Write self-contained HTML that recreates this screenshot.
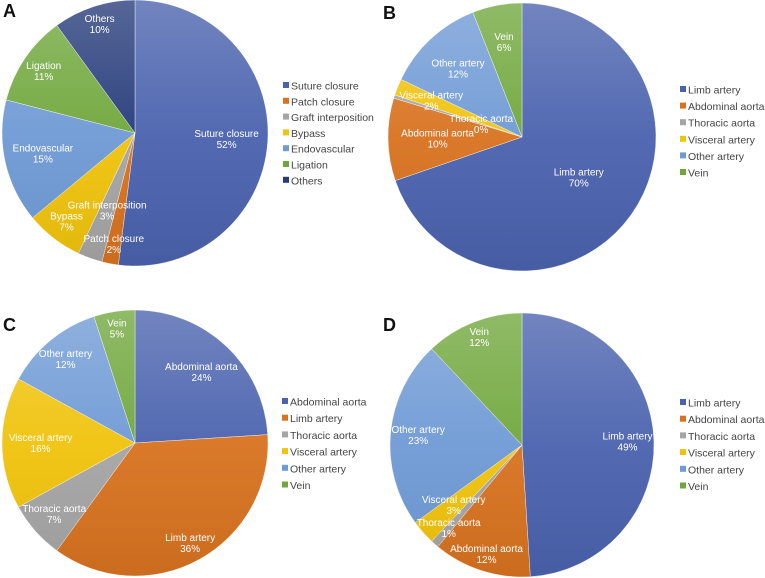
<!DOCTYPE html>
<html><head><meta charset="utf-8"><style>
body{margin:0;background:#fff;}
svg{display:block;font-family:"Liberation Sans",sans-serif;}
</style></head><body>
<svg id="fig" width="765" height="578" viewBox="0 0 765 578">
<defs>
<linearGradient id="shade" x1="0" y1="0" x2="0" y2="1">
<stop offset="0" stop-color="#fff" stop-opacity="0.22"/>
<stop offset="0.5" stop-color="#fff" stop-opacity="0.05"/>
<stop offset="1" stop-color="#000" stop-opacity="0.06"/>
</linearGradient>
</defs>
<text x="3" y="17" font-size="18" font-weight="bold" fill="#111">A</text>
<text x="383" y="19" font-size="18" font-weight="bold" fill="#111">B</text>
<text x="3" y="331" font-size="18" font-weight="bold" fill="#111">C</text>
<text x="383" y="331" font-size="18" font-weight="bold" fill="#111">D</text>
</svg>
<script>
const catsA = ["Suture closure","Patch closure","Graft interposition","Bypass","Endovascular","Ligation","Others"];
const valsA = [52,2,3,7,15,11,10];
const labelsA = ["52%","2%","3%","7%","15%","11%","10%"];
const catsB = ["Limb artery","Abdominal aorta","Thoracic aorta","Visceral artery","Other artery","Vein"];
const valsB = [70,10,0.4,2,12,6];
const labelsB = ["70%","10%","0%","2%","12%","6%"];
const catsC = ["Abdominal aorta","Limb artery","Thoracic aorta","Visceral artery","Other artery","Vein"];
const valsC = [24,36,7,16,12,5];
const labelsC = ["24%","36%","7%","16%","12%","5%"];
const catsD = ["Limb artery","Abdominal aorta","Thoracic aorta","Visceral artery","Other artery","Vein"];
const valsD = [49,12,1,3,23,12];
const labelsD = ["49%","12%","1%","3%","23%","12%"];

const colors = ["#4a62ae","#d8721f","#a5a5a5","#f0c30c","#6f9ad5","#70a73c","#263b7a"];
const svg = document.getElementById('fig');
const NS = "http://www.w3.org/2000/svg";

function drawPie(id, cats, vals, labels, cx, cy, r, lblFactor, legX, legY, legStep){
  const g = document.createElementNS(NS,'g');
  
  
  svg.appendChild(g);
  const total = vals.reduce((a,b)=>a+b,0);
  let acc = 0;
  const mids = [];
  vals.forEach((v,i)=>{
    const a0 = acc/total*2*Math.PI, a1 = (acc+v)/total*2*Math.PI;
    acc += v;
    mids.push((a0+a1)/2);
    const x0 = cx + r*Math.sin(a0), y0 = cy - r*Math.cos(a0);
    const x1 = cx + r*Math.sin(a1), y1 = cy - r*Math.cos(a1);
    const large = (a1-a0) > Math.PI ? 1 : 0;
    const p = document.createElementNS(NS,'path');
    p.setAttribute('d', `M${cx},${cy} L${x0},${y0} A${r},${r} 0 ${large} 1 ${x1},${y1} Z`);
    p.setAttribute('fill', colors[i]);
    p.setAttribute('stroke', '#fff');
    p.setAttribute('stroke-width', '0.4');
    
    
    g.appendChild(p);
  });
  const c = document.createElementNS(NS,'circle');
  c.setAttribute('cx', cx); c.setAttribute('cy', cy); c.setAttribute('r', r);
  c.setAttribute('fill', 'url(#shade)');
  c.setAttribute('pointer-events', 'none');
  
  
  g.appendChild(c);
  vals.forEach((v,i)=>{
    const d = r*lblFactor[i];
    const lx = cx + d*Math.sin(mids[i]), ly = cy - d*Math.cos(mids[i]);
    const t = document.createElementNS(NS,'text');
    t.setAttribute('x', lx); t.setAttribute('y', ly-2);
    t.setAttribute('text-anchor','middle');
    t.setAttribute('font-size','10');
    t.setAttribute('fill','#fff');
    
    
    const s1 = document.createElementNS(NS,'tspan');
    s1.setAttribute('x', lx); s1.textContent = cats[i];
    const s2 = document.createElementNS(NS,'tspan');
    s2.setAttribute('x', lx); s2.setAttribute('dy','11'); s2.textContent = labels[i];
    t.appendChild(s1); t.appendChild(s2);
    g.appendChild(t);
  });
  const lg = document.createElementNS(NS,'g');
  
  
  svg.appendChild(lg);
  cats.forEach((cat,i)=>{
    const y = legY + i*legStep;
    const e = document.createElementNS(NS,'g');
    
    
    const sq = document.createElementNS(NS,'rect');
    sq.setAttribute('x', legX); sq.setAttribute('y', y-4);
    sq.setAttribute('width', 6); sq.setAttribute('height', 6);
    sq.setAttribute('fill', colors[i]);
    const t = document.createElementNS(NS,'text');
    t.setAttribute('x', legX+8); t.setAttribute('y', y+3.5);
    t.setAttribute('font-size','10.5'); t.setAttribute('fill','#444');
    t.textContent = cat;
    e.appendChild(sq); e.appendChild(t);
    lg.appendChild(e);
  });
}
drawPie('a', catsA, valsA, labelsA, 135, 133, 133, [0.69,0.85,0.62,0.84,0.71,0.83,0.86], 283, 86, 15.8);
drawPie('b', catsB, valsB, labelsB, 522, 137, 134, [0.52,0.63,0.32,0.73,0.7,0.72], 680, 90, 16.6);
drawPie('c', catsC, valsC, labelsC, 135, 443, 133, [0.73,0.86,0.81,0.71,0.82,0.87], 282, 402, 16.7);
drawPie('d', catsD, valsD, labelsD, 522, 445, 132, [0.8,0.87,0.84,0.69,0.79,0.88], 680, 403, 16.7);
</script>
</body></html>
